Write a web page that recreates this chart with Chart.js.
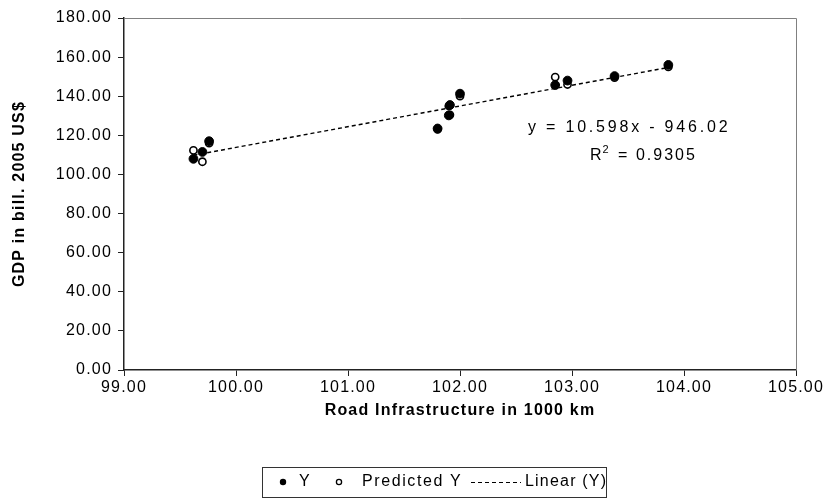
<!DOCTYPE html>
<html>
<head>
<meta charset="utf-8">
<script src="https://cdn.jsdelivr.net/npm/chart.js@4.4.1/dist/chart.umd.min.js"></script>
<style>
html,body{margin:0;padding:0;background:#fff;}
#wrap{width:828px;height:500px;position:relative;}
</style>
</head>
<body>
<div id="wrap"><canvas id="c" width="828" height="500"></canvas></div>
<script>
// ---- data ----
const roadKm      = [99.62, 99.70, 99.76, 101.80, 101.90, 101.91, 102.00, 102.85, 102.96, 103.38, 103.86];
const gdpY        = [108.0, 111.5, 117.0, 123.5, 130.2, 135.5, 141.3, 145.7, 148.0, 150.3, 156.0];
const gdpPred     = [112.3, 106.5, 116.0, 123.0, 135.0, 130.5, 140.0, 149.8, 146.0, 149.5, 155.0];
const trendX      = [99.62, 103.86];
const trendY      = [109.8, 154.7];
const xTicks      = [99, 100, 101, 102, 103, 104, 105];
const yTicks      = [0, 20, 40, 60, 80, 100, 120, 140, 160, 180];
const seriesNames = ['Y', 'Predicted Y', 'Linear (Y)'];
const eqText      = 'y = 10.598x - 946.02';
const r2Value     = '0.9305';
const xTitle      = 'Road Infrastructure in 1000 km';
const yTitle      = 'GDP in bill. 2005 US$';

const FONT = "'Liberation Sans', Arial, sans-serif";
const LS = '1.2px';

const spacingPlugin = {
  id: 'spacing',
  beforeUpdate(chart){ chart.ctx.letterSpacing = LS; },
  beforeLayout(chart){ chart.ctx.letterSpacing = LS; },
  beforeDraw(chart){ chart.ctx.letterSpacing = LS; }
};

const framePlugin = {
  id: 'frame',
  beforeDatasetsDraw(chart){
    const {ctx, chartArea:a} = chart;
    ctx.save();
    ctx.strokeStyle = '#808080';
    ctx.lineWidth = 1;
    ctx.beginPath();
    ctx.moveTo(a.left, a.top + 0.5);
    ctx.lineTo(a.right + 0.5, a.top + 0.5);
    ctx.lineTo(a.right + 0.5, a.bottom);
    ctx.stroke();
    ctx.restore();
  }
};

const annotPlugin = {
  id: 'annot',
  afterDraw(chart){
    const ctx = chart.ctx;
    ctx.save();
    ctx.fillStyle = '#000';
    ctx.textBaseline = 'middle';
    ctx.textAlign = 'left';
    ctx.letterSpacing = '2.8px';
    ctx.font = "16px " + FONT;
    ctx.fillText(eqText, 528, 128);
    // R^2
    ctx.letterSpacing = '2px';
    let x = 590;
    ctx.fillText('R', x, 156);
    x += ctx.measureText('R').width;
    ctx.font = "11px " + FONT;
    ctx.fillText('2', x - 1, 150);
    x += ctx.measureText('2').width;
    ctx.font = "16px " + FONT;
    ctx.fillText(' = ' + r2Value, x, 156);

    // legend
    ctx.letterSpacing = '1.6px';
    ctx.strokeStyle = '#333';
    ctx.lineWidth = 1;
    ctx.strokeRect(262.5, 467.5, 344, 30);
    const cy = 482;
    ctx.fillStyle = '#000';
    ctx.beginPath(); ctx.arc(283, cy, 3.2, 0, Math.PI*2); ctx.fill();
    ctx.font = "16px " + FONT;
    ctx.fillText(seriesNames[0], 299, cy);
    ctx.fillStyle = '#fff';
    ctx.lineWidth = 1.3;
    ctx.strokeStyle = '#000';
    ctx.beginPath(); ctx.arc(339, cy, 2.6, 0, Math.PI*2); ctx.fill(); ctx.stroke();
    ctx.fillStyle = '#000';
    ctx.fillText(seriesNames[1], 362, cy);
    ctx.setLineDash([4, 3]);
    ctx.lineWidth = 1.2;
    ctx.beginPath(); ctx.moveTo(471, cy + 0.5); ctx.lineTo(521, cy + 0.5); ctx.stroke();
    ctx.setLineDash([]);
    ctx.letterSpacing = '1.2px';
    ctx.fillText(seriesNames[2], 525, cy);
    ctx.restore();
  }
};

const ds = (xs, ys) => xs.map((x, i) => ({x, y: ys[i]}));

new Chart(document.getElementById('c'), {
  type: 'scatter',
  data: {
    datasets: [
      {
        label: seriesNames[0],
        data: ds(roadKm, gdpY),
        backgroundColor: '#000',
        borderColor: '#000',
        pointRadius: 4.4,
        pointBorderWidth: 1,
        pointStyle: 'circle'
      },
      {
        label: seriesNames[1],
        data: ds(roadKm, gdpPred),
        backgroundColor: '#fff',
        borderColor: '#000',
        pointRadius: 3.6,
        pointBorderWidth: 1.6,
        pointStyle: 'circle'
      },
      {
        type: 'line',
        label: seriesNames[2],
        data: ds(trendX, trendY),
        borderColor: '#000',
        borderWidth: 1.4,
        borderDash: [4, 3],
        pointRadius: 0,
        fill: false
      }
    ]
  },
  options: {
    responsive: false,
    animation: false,
    devicePixelRatio: 1,
    layout: { padding: { left: 6, right: 32, top: 18, bottom: 76 } },
    plugins: { legend: { display: false }, tooltip: { enabled: false } },
    scales: {
      x: {
        type: 'linear',
        min: 99, max: 105,
        afterBuildTicks(s){ s.ticks = xTicks.map(v => ({value: v})); },
        afterFit(s){ s.height = 54; },
        ticks: {
          callback: v => Number(v).toFixed(2),
          color: '#000',
          font: { family: FONT, size: 16 },
          padding: 2,
          maxRotation: 0
        },
        grid: { drawOnChartArea: false, drawTicks: true, tickLength: 6, color: '#222', lineWidth: 1 },
        border: { color: '#222', width: 1.5 },
        title: {
          display: true, text: xTitle, color: '#000',
          font: { family: FONT, size: 16, weight: 'bold' }
        }
      },
      y: {
        min: 0, max: 180,
        afterBuildTicks(s){ s.ticks = yTicks.map(v => ({value: v})); },
        afterFit(s){ s.width = 118; },
        ticks: {
          callback: v => Number(v).toFixed(2),
          color: '#000',
          font: { family: FONT, size: 16 },
          padding: 6
        },
        grid: { drawOnChartArea: false, drawTicks: true, tickLength: 6, color: '#222', lineWidth: 1 },
        border: { color: '#222', width: 1.5 },
        title: {
          display: true, text: yTitle, color: '#000',
          font: { family: FONT, size: 16, weight: 'bold' }
        }
      }
    }
  },
  plugins: [spacingPlugin, framePlugin, annotPlugin]
});
</script>
</body>
</html>
